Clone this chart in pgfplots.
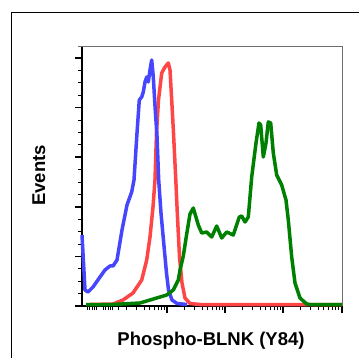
\documentclass[border=0pt]{standalone}
\usepackage{pgfplots}
\pgfplotsset{compat=1.18}
\usepackage{fontspec}
\setmainfont{Liberation Sans}
\definecolor{cblue}{RGB}{70,70,255}
\definecolor{cred}{RGB}{255,70,70}
\definecolor{cgreen}{RGB}{0,128,0}
\definecolor{framegray}{RGB}{110,110,110}
\begin{document}
\begin{tikzpicture}
\useasboundingbox (0,0) rectangle (359bp,358bp);
\draw[line width=1.5bp] (11.5bp,-10bp) -- (11.5bp,345.5bp) -- (375bp,345.5bp);
\begin{axis}[
  at={(82bp,52bp)}, anchor=south west,
  scale only axis, width=260bp, height=260bp,
  xmin=82, xmax=342, ymin=0, ymax=260,
  axis x line*=bottom, axis y line*=left,
  axis line style={line width=1.3bp, black},
  xtick={167,225,283,342},
  minor xtick={87,89.5,92,94,96.5,103,105.5,108,110,112.5,118,
    126.5,136.7,143.9,149.5,154.2,158,161.4,164.4,
    184.5,194.7,201.9,207.5,212.2,216,219.4,222.4,
    242.5,252.7,259.9,265.5,270.2,274,277.4,280.4,
    300.5,310.7,317.9,323.5,328.2,332,335.4,338.4},
  ytick={0,49.6,99.2,148.8,198.4,248},
  minor ytick={12.4,24.8,37.2,62,74.4,86.8,111.6,124,136.4,161.2,173.6,186,210.8,223.2,235.6},
  xticklabels={}, yticklabels={},
  tick align=outside,
  major tick length=7bp, minor tick length=4bp,
  every major tick/.append style={line width=1.6bp, black},
  every minor tick/.append style={line width=0.8bp, black},
  clip=false,
  every axis plot/.append style={line width=3.5bp, line join=round, no markers},
]
\draw[framegray, line width=0.9bp] ([xshift=-4bp]rel axis cs:0,1) -- (rel axis cs:1,1) -- (rel axis cs:1,0);
% red
\addplot[cred] coordinates {
(90,1.5)(113,2)(123,6)(133,13)(141.7,26)(146.7,46)(150,69)(153,99)(155,126)
(156.5,173)(158.5,206)(161.7,233)(165,239)(168.3,243)(170,236)(171.7,206)
(173.5,173)(175.8,126)(177.3,93)(179.5,49)(182,23)(185,8)(190,2.5)(200,1.5)(342,1.5)};
% blue
\addplot[cblue] coordinates {
(82,71)(85,16)(88,14)(93,19)(100,29)(105,36)(110,40)(113,40)(117,46)(122,76)
(127,101)(131.7,114)(134,126)(137,173)(139.3,206)(141.7,209)(143.3,214)(145,224)
(146.7,229)(148.3,224)(150,236)(151.7,246)(153.3,229)(155,200)(157,170)(158.7,126)
(161,93)(164,60)(166.5,33)(168.5,16)(172,6)(177,2.5)(187,1.5)};
% green
\addplot[cgreen] coordinates {
(86,1.5)(113,1.5)(140,3)(156.7,8)(166.7,11)(173.3,16)(178.3,26)(180,36)(183.3,50)
(186.7,72)(190,92)(193.3,98)(198.3,81)(201.7,73)(206.7,74)(211.7,69)(216.7,80)
(221.7,68)(226.7,74)(233.3,71)(239.3,89)(241.7,90)(245,84)(248.3,89)(251.7,129)
(256,163)(259,183)(260.7,181)(263.3,149)(266,163)(268.3,184)(270.7,183)(273.3,153)
(276.7,131)(281.7,121)(286,106)(288.3,86)(291.7,49)(295,23)(300,8)(306.7,2)(310,1.5)(342,1.5)};
\end{axis}
\node[font=\fontsize{18.5bp}{20bp}\selectfont\bfseries, anchor=base] at (211bp,13bp) {Phospho-BLNK (Y84)};
\node[font=\fontsize{18.5bp}{20bp}\selectfont\bfseries, rotate=90, anchor=base] at (45bp,182.5bp) {Events};
\end{tikzpicture}
\end{document}
